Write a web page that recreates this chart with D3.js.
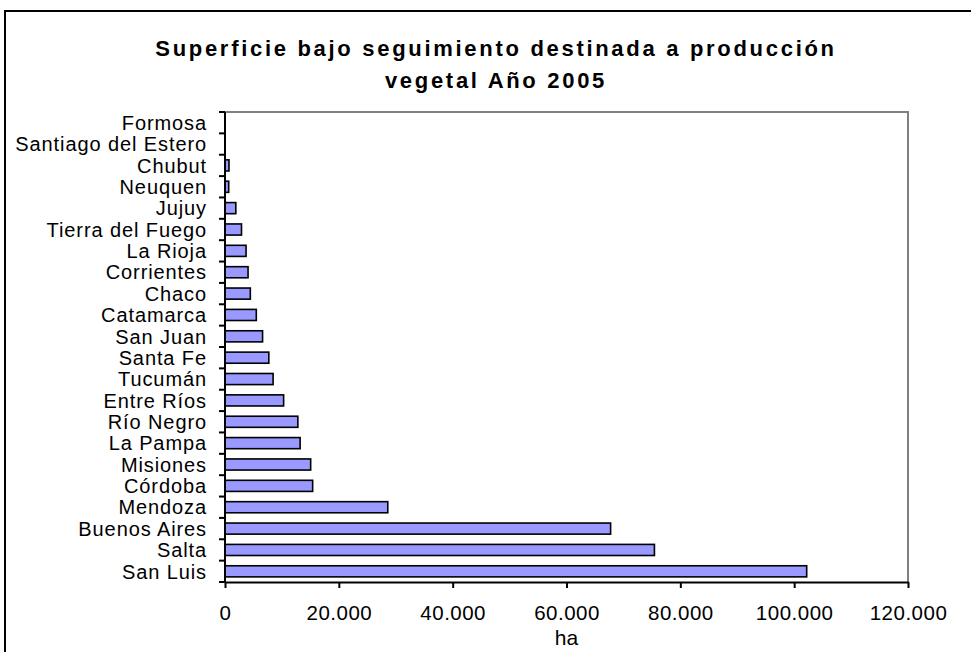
<!DOCTYPE html>
<html>
<head>
<meta charset="utf-8">
<script src="https://cdn.jsdelivr.net/npm/d3@7"></script>
<style>
  body { margin: 0; background: #fff; }
  svg { display: block; font-family: "Liberation Sans", Arial, sans-serif; }
</style>
</head>
<body>
<script>
// provinces, top to bottom as in the chart
const provincias = [
  'Formosa', 'Santiago del Estero', 'Chubut', 'Neuquen', 'Jujuy',
  'Tierra del Fuego', 'La Rioja', 'Corrientes', 'Chaco', 'Catamarca',
  'San Juan', 'Santa Fe', 'Tucumán', 'Entre Ríos', 'Río Negro',
  'La Pampa', 'Misiones', 'Córdoba', 'Mendoza', 'Buenos Aires',
  'Salta', 'San Luis'
];
const hectareas = [
  0, 0, 700, 650, 1900,
  2900, 3700, 4050, 4450, 5500,
  6600, 7700, 8450, 10300, 12800,
  13200, 15050, 15400, 28600, 67750,
  75450, 102200
];
const xTicks = [0, 20000, 40000, 60000, 80000, 100000, 120000];
const titulo = ['Superficie bajo seguimiento destinada a producción', 'vegetal Año 2005'];
const ejeX = 'ha';

const W = 971, H = 652;
const plot = { left: 225, top: 112, right: 908, bottom: 582 };

const svg = d3.select('body').append('svg')
  .attr('width', W)
  .attr('height', H);

// outer chart border (runs off the page right and bottom)
svg.append('rect')
  .attr('x', 5).attr('y', 11)
  .attr('width', 1000).attr('height', 700)
  .attr('fill', '#fff')
  .attr('stroke', '#000').attr('stroke-width', 2);

svg.selectAll('text.title')
  .data(titulo)
  .enter()
  .append('text')
    .attr('class', 'title')
    .text(d => d)
    .attr('x', 496)
    .attr('y', (d, i) => 56 + i * 32)
    .attr('text-anchor', 'middle')
    .style('font-weight', 'bold')
    .style('font-size', '22px')
    .style('letter-spacing', '2.7px')
    .style('fill', '#000');

const x = d3.scaleLinear()
  .domain([0, 120000])
  .range([plot.left, plot.right]);

const y = d3.scaleBand()
  .domain(provincias)
  .range([plot.top, plot.bottom])
  .paddingInner(0.48)
  .paddingOuter(0.24);

// plot area frame: grey top/right
svg.append('path')
  .attr('d', `M${plot.left},${plot.top}H${plot.right}V${plot.bottom}`)
  .attr('fill', 'none')
  .attr('stroke', '#808080')
  .attr('stroke-width', 2);

svg.selectAll('rect.bar')
  .data(hectareas)
  .enter()
  .append('rect')
    .attr('class', 'bar')
    .attr('x', x(0))
    .attr('y', (d, i) => y(provincias[i]))
    .attr('width', d => x(d) - x(0))
    .attr('height', y.bandwidth())
    .attr('fill', '#9999FF')
    .attr('stroke', '#000')
    .attr('stroke-width', d => d > 0 ? 1.6 : 0);

// x axis
const fmt = d => d3.format(',')(d).replace(/,/g, '.');
const xAxis = svg.append('g')
  .attr('transform', `translate(0,${plot.bottom})`)
  .call(d3.axisBottom(x).tickValues(xTicks).tickFormat(fmt).tickSize(6).tickSizeOuter(0).tickPadding(17));
xAxis.select('.domain').attr('stroke', '#000').attr('stroke-width', 2);
xAxis.selectAll('.tick line').attr('stroke', '#000').attr('stroke-width', 2);
xAxis.selectAll('.tick text')
  .style('font-size', '20.5px')
  .style('letter-spacing', '0.5px')
  .style('font-family', '"Liberation Sans", Arial, sans-serif')
  .attr('fill', '#000');

svg.append('text')
  .text(ejeX)
  .attr('x', (plot.left + plot.right) / 2)
  .attr('y', 645)
  .attr('text-anchor', 'middle')
  .style('font-size', '21px');

// y axis: ticks between categories, Excel style
const step = (plot.bottom - plot.top) / provincias.length;
const yAx = svg.append('g');
yAx.append('line')
  .attr('x1', plot.left).attr('x2', plot.left)
  .attr('y1', plot.top).attr('y2', plot.bottom + 1)
  .attr('stroke', '#000').attr('stroke-width', 2);
yAx.selectAll('line.tk')
  .data(d3.range(provincias.length + 1))
  .enter()
  .append('line')
    .attr('class', 'tk')
    .attr('x1', plot.left - 6).attr('x2', plot.left)
    .attr('y1', i => plot.top + i * step)
    .attr('y2', i => plot.top + i * step)
    .attr('stroke', '#000').attr('stroke-width', 2);
yAx.selectAll('text')
  .data(provincias)
  .enter()
  .append('text')
    .text(d => d)
    .attr('x', 207)
    .attr('y', d => y(d) + y.bandwidth() / 2)
    .attr('dy', '0.36em')
    .attr('text-anchor', 'end')
    .style('font-size', '20px')
    .style('letter-spacing', '0.9px');
</script>
</body>
</html>
